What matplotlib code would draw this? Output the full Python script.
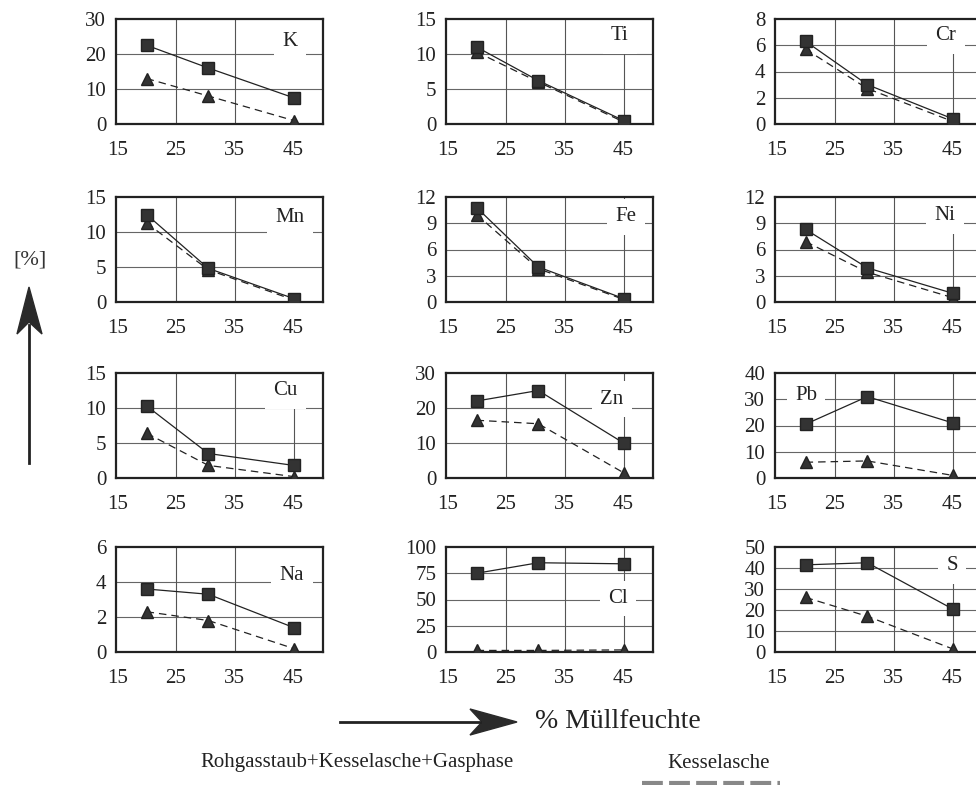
import numpy as np
import matplotlib
matplotlib.use("Agg")
import matplotlib.pyplot as plt
from matplotlib.patches import Polygon
from matplotlib.lines import Line2D

plt.rcParams['font.family'] = ['Liberation Serif', 'DejaVu Serif']

# % Müllfeuchte
feuchte = [20, 30.5, 45]
x_ticks = [15, 25, 35, 45]

elements = ['K', 'Ti', 'Cr', 'Mn', 'Fe', 'Ni', 'Cu', 'Zn', 'Pb', 'Na', 'Cl', 'S']
y_max = [30, 15, 8, 15, 12, 12, 15, 30, 40, 6, 100, 50]
y_step = [10, 5, 2, 5, 3, 3, 5, 10, 10, 2, 25, 10]

# Rohgasstaub+Kesselasche+Gasphase (squares)
rohgas = np.array([
    [22.5, 16.0, 7.5],
    [11.0, 6.2, 0.5],
    [6.3, 3.0, 0.4],
    [12.5, 4.8, 0.5],
    [10.8, 4.0, 0.4],
    [8.3, 3.9, 1.0],
    [10.3, 3.5, 1.8],
    [22.0, 25.0, 10.0],
    [20.5, 31.0, 21.0],
    [3.6, 3.3, 1.4],
    [75.0, 85.0, 84.0],
    [41.5, 42.5, 20.5],
])

# Kesselasche (triangles)
kessel = np.array([
    [13.0, 8.0, 1.0],
    [10.3, 6.0, 0.3],
    [5.7, 2.7, 0.2],
    [11.3, 4.6, 0.3],
    [10.0, 3.8, 0.3],
    [6.9, 3.4, 0.5],
    [6.4, 1.8, 0.2],
    [16.5, 15.5, 1.5],
    [6.0, 6.5, 1.0],
    [2.3, 1.8, 0.2],
    [1.5, 1.5, 2.0],
    [26.0, 17.0, 1.5],
])

# layout (pixels in the 976x785 picture)
W, H = 976, 785
col_left = [116, 446, 775]
row_top = [19, 197, 373, 547]
ax_w, ax_h = 207, 105
lab_pos = [(0.84, 0.79), (0.84, 0.84), (0.825, 0.84), (0.84, 0.80),
           (0.87, 0.81), (0.82, 0.82), (0.82, 0.83), (0.80, 0.75),
           (0.15, 0.79), (0.85, 0.73), (0.83, 0.51), (0.855, 0.82)]
line45 = [False, True, True, False, True, True, True, True, True, False, True, True]


def fx(px):
    return px / W


def fy(py):
    return 1 - py / H


fig = plt.figure(figsize=(9.76, 7.85), dpi=100, facecolor='white')

for i, name in enumerate(elements):
    r, c = divmod(i, 3)
    ax = fig.add_axes([fx(col_left[c]), fy(row_top[r] + ax_h), ax_w / W, ax_h / H])
    ax.set_xlim(14.8, 50)
    ax.set_ylim(0, y_max[i])
    yt = np.arange(0, y_max[i] + 0.01, y_step[i])
    ax.set_yticks(yt)
    ax.set_yticklabels([f"{v:g}" for v in yt])
    ax.set_xticks(x_ticks)
    ax.tick_params(length=0, labelsize=15, pad=7, labelcolor='#222222')
    ax.tick_params(axis='x', pad=12)
    for v in yt[1:-1]:
        ax.axhline(v, color='#666666', lw=0.8, zorder=1)
    for v in [25, 35]:
        ax.axvline(v, color='#555555', lw=0.8, zorder=1)
    if line45[i]:
        ax.axvline(45, color='#555555', lw=0.8, zorder=1)
    for s in ax.spines.values():
        s.set_linewidth(1.6)
        s.set_color('#222222')

    ax.plot(feuchte, rohgas[i], '-', color='#222222', lw=0.9, marker='s', ms=8,
            mfc='#333333', mec='#222222', zorder=4)
    ax.plot(feuchte, kessel[i], color='#222222', lw=0.9, dashes=(6, 4), marker='^', ms=8.5,
            mfc='#333333', mec='#222222', zorder=3)

    lx, ly = lab_pos[i]
    ax.text(lx, ly, name, transform=ax.transAxes, ha='center', va='center', fontsize=15,
            color='#222222', zorder=2.5,
            bbox=dict(boxstyle='square,pad=0.4', fc='white', ec='none'))

# vertical arrow [%]
fig.text(fx(30), fy(260), '[%]', fontsize=16, ha='center', va='center', color='#333333')
fig.add_artist(Line2D([fx(29), fx(29)], [fy(463), fy(325)], color='#222222', lw=2))
fig.add_artist(Polygon([(fx(29), fy(287)), (fx(17), fy(334)), (fx(29), fy(322)), (fx(42), fy(334))],
                       closed=True, transform=fig.transFigure, fc='#2a2a2a', ec='#2a2a2a'))

# horizontal arrow % Müllfeuchte
fig.add_artist(Line2D([fx(340), fx(480)], [fy(722), fy(722)], color='#222222', lw=2))
fig.add_artist(Polygon([(fx(517), fy(722)), (fx(470), fy(709)), (fx(482), fy(722)), (fx(470), fy(735))],
                       closed=True, transform=fig.transFigure, fc='#2a2a2a', ec='#2a2a2a'))
fig.text(fx(535), fy(722), '% Müllfeuchte', fontsize=20, ha='left', va='center', color='#222222')

# legend texts (cut off at the bottom)
fig.text(fx(357), fy(763), 'Rohgasstaub+Kesselasche+Gasphase', fontsize=15, ha='center', va='center',
         color='#222222')
fig.text(fx(719), fy(763), 'Kesselasche', fontsize=15, ha='center', va='center', color='#222222')
fig.add_artist(Line2D([fx(642), fx(780)], [fy(783), fy(783)], color='#888888', lw=3, dashes=(5, 1.5)))

fig.savefig('out.png', dpi=100, facecolor='white')
